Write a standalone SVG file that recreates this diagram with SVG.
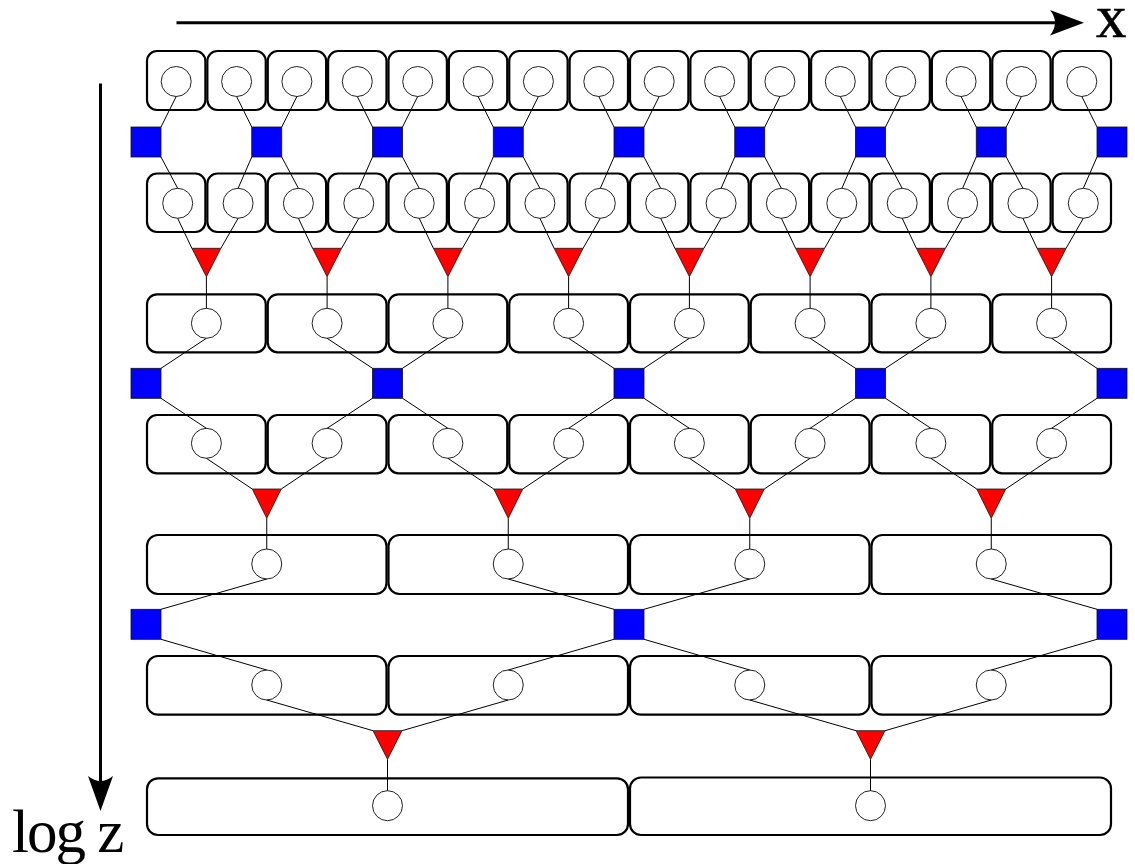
<svg xmlns="http://www.w3.org/2000/svg" width="1135" height="864" viewBox="0 0 1135 864">
<style>
.b{fill:none;stroke:#000;stroke-width:2.2}
.c{fill:#fff;stroke:#222;stroke-width:1}
.sq{fill:#0000ff;stroke:#111;stroke-width:0.8}
.tr{fill:#ff0000;stroke:#111;stroke-width:0.8}
.ln{stroke:#000;stroke-width:1;fill:none}
.ax{stroke:#000;stroke-width:3;fill:none}
.lbl{font-family:"Liberation Serif","Times New Roman",serif;font-size:61px;fill:#000}
</style>
<rect width="1135" height="864" fill="#fff"/>
<g id="axes">
<line class="ax" x1="176.5" y1="22.7" x2="1062" y2="22.7"/>
<path d="M1084,22.7 L1050,10 Q1060,22.7 1050,35.4 Z" fill="#000"/>
<line class="ax" x1="100.5" y1="83.5" x2="100.5" y2="790"/>
<path d="M100.5,811 L88,776 Q100.5,786 113,776 Z" fill="#000"/>
<text class="lbl" x="1096" y="37" font-size="60" stroke="#000" stroke-width="0.6">x</text>
<text class="lbl" x="12" y="852" letter-spacing="-2">log z</text>
</g>
<g id="row1">
<g id="n1_0"><rect class="b" x="147" y="51" width="58.375" height="59" rx="10"/><circle class="c" cx="176.2" cy="81.5" r="15"/></g>
<g id="n1_1"><rect class="b" x="207.375" y="51" width="58.375" height="59" rx="10"/><circle class="c" cx="236.6" cy="81.5" r="15"/></g>
<g id="n1_2"><rect class="b" x="267.75" y="51" width="58.375" height="59" rx="10"/><circle class="c" cx="296.9" cy="81.5" r="15"/></g>
<g id="n1_3"><rect class="b" x="328.125" y="51" width="58.375" height="59" rx="10"/><circle class="c" cx="357.3" cy="81.5" r="15"/></g>
<g id="n1_4"><rect class="b" x="388.5" y="51" width="58.375" height="59" rx="10"/><circle class="c" cx="417.7" cy="81.5" r="15"/></g>
<g id="n1_5"><rect class="b" x="448.875" y="51" width="58.375" height="59" rx="10"/><circle class="c" cx="478.1" cy="81.5" r="15"/></g>
<g id="n1_6"><rect class="b" x="509.25" y="51" width="58.375" height="59" rx="10"/><circle class="c" cx="538.4" cy="81.5" r="15"/></g>
<g id="n1_7"><rect class="b" x="569.625" y="51" width="58.375" height="59" rx="10"/><circle class="c" cx="598.8" cy="81.5" r="15"/></g>
<g id="n1_8"><rect class="b" x="630" y="51" width="58.375" height="59" rx="10"/><circle class="c" cx="659.2" cy="81.5" r="15"/></g>
<g id="n1_9"><rect class="b" x="690.375" y="51" width="58.375" height="59" rx="10"/><circle class="c" cx="719.6" cy="81.5" r="15"/></g>
<g id="n1_10"><rect class="b" x="750.75" y="51" width="58.375" height="59" rx="10"/><circle class="c" cx="779.9" cy="81.5" r="15"/></g>
<g id="n1_11"><rect class="b" x="811.125" y="51" width="58.375" height="59" rx="10"/><circle class="c" cx="840.3" cy="81.5" r="15"/></g>
<g id="n1_12"><rect class="b" x="871.5" y="51" width="58.375" height="59" rx="10"/><circle class="c" cx="900.7" cy="81.5" r="15"/></g>
<g id="n1_13"><rect class="b" x="931.875" y="51" width="58.375" height="59" rx="10"/><circle class="c" cx="961.1" cy="81.5" r="15"/></g>
<g id="n1_14"><rect class="b" x="992.25" y="51" width="58.375" height="59" rx="10"/><circle class="c" cx="1021.4" cy="81.5" r="15"/></g>
<g id="n1_15"><rect class="b" x="1052.625" y="51" width="58.375" height="59" rx="10"/><circle class="c" cx="1081.8" cy="81.5" r="15"/></g>
</g>
<g id="row2">
<g id="n2_0"><rect class="b" x="147" y="173.5" width="58.375" height="58.5" rx="10"/><circle class="c" cx="177.7" cy="203.3" r="15"/></g>
<g id="n2_1"><rect class="b" x="207.375" y="173.5" width="58.375" height="58.5" rx="10"/><circle class="c" cx="238.1" cy="203.3" r="15"/></g>
<g id="n2_2"><rect class="b" x="267.75" y="173.5" width="58.375" height="58.5" rx="10"/><circle class="c" cx="298.4" cy="203.3" r="15"/></g>
<g id="n2_3"><rect class="b" x="328.125" y="173.5" width="58.375" height="58.5" rx="10"/><circle class="c" cx="358.8" cy="203.3" r="15"/></g>
<g id="n2_4"><rect class="b" x="388.5" y="173.5" width="58.375" height="58.5" rx="10"/><circle class="c" cx="419.2" cy="203.3" r="15"/></g>
<g id="n2_5"><rect class="b" x="448.875" y="173.5" width="58.375" height="58.5" rx="10"/><circle class="c" cx="479.6" cy="203.3" r="15"/></g>
<g id="n2_6"><rect class="b" x="509.25" y="173.5" width="58.375" height="58.5" rx="10"/><circle class="c" cx="539.9" cy="203.3" r="15"/></g>
<g id="n2_7"><rect class="b" x="569.625" y="173.5" width="58.375" height="58.5" rx="10"/><circle class="c" cx="600.3" cy="203.3" r="15"/></g>
<g id="n2_8"><rect class="b" x="630" y="173.5" width="58.375" height="58.5" rx="10"/><circle class="c" cx="660.7" cy="203.3" r="15"/></g>
<g id="n2_9"><rect class="b" x="690.375" y="173.5" width="58.375" height="58.5" rx="10"/><circle class="c" cx="721.1" cy="203.3" r="15"/></g>
<g id="n2_10"><rect class="b" x="750.75" y="173.5" width="58.375" height="58.5" rx="10"/><circle class="c" cx="781.4" cy="203.3" r="15"/></g>
<g id="n2_11"><rect class="b" x="811.125" y="173.5" width="58.375" height="58.5" rx="10"/><circle class="c" cx="841.8" cy="203.3" r="15"/></g>
<g id="n2_12"><rect class="b" x="871.5" y="173.5" width="58.375" height="58.5" rx="10"/><circle class="c" cx="902.2" cy="203.3" r="15"/></g>
<g id="n2_13"><rect class="b" x="931.875" y="173.5" width="58.375" height="58.5" rx="10"/><circle class="c" cx="962.6" cy="203.3" r="15"/></g>
<g id="n2_14"><rect class="b" x="992.25" y="173.5" width="58.375" height="58.5" rx="10"/><circle class="c" cx="1022.9" cy="203.3" r="15"/></g>
<g id="n2_15"><rect class="b" x="1052.625" y="173.5" width="58.375" height="58.5" rx="10"/><circle class="c" cx="1083.3" cy="203.3" r="15"/></g>
</g>
<g id="row3">
<g id="n3_0"><rect class="b" x="147" y="294.3" width="118.75" height="58" rx="10"/><circle class="c" cx="206.4" cy="323.3" r="15"/></g>
<g id="n3_1"><rect class="b" x="267.75" y="294.3" width="118.75" height="58" rx="10"/><circle class="c" cx="327.1" cy="323.3" r="15"/></g>
<g id="n3_2"><rect class="b" x="388.5" y="294.3" width="118.75" height="58" rx="10"/><circle class="c" cx="447.9" cy="323.3" r="15"/></g>
<g id="n3_3"><rect class="b" x="509.25" y="294.3" width="118.75" height="58" rx="10"/><circle class="c" cx="568.6" cy="323.3" r="15"/></g>
<g id="n3_4"><rect class="b" x="630" y="294.3" width="118.75" height="58" rx="10"/><circle class="c" cx="689.4" cy="323.3" r="15"/></g>
<g id="n3_5"><rect class="b" x="750.75" y="294.3" width="118.75" height="58" rx="10"/><circle class="c" cx="810.1" cy="323.3" r="15"/></g>
<g id="n3_6"><rect class="b" x="871.5" y="294.3" width="118.75" height="58" rx="10"/><circle class="c" cx="930.9" cy="323.3" r="15"/></g>
<g id="n3_7"><rect class="b" x="992.25" y="294.3" width="118.75" height="58" rx="10"/><circle class="c" cx="1051.6" cy="323.3" r="15"/></g>
</g>
<g id="row4">
<g id="n4_0"><rect class="b" x="147" y="415" width="118.75" height="58.3" rx="10"/><circle class="c" cx="206.4" cy="443.3" r="15"/></g>
<g id="n4_1"><rect class="b" x="267.75" y="415" width="118.75" height="58.3" rx="10"/><circle class="c" cx="327.1" cy="443.3" r="15"/></g>
<g id="n4_2"><rect class="b" x="388.5" y="415" width="118.75" height="58.3" rx="10"/><circle class="c" cx="447.9" cy="443.3" r="15"/></g>
<g id="n4_3"><rect class="b" x="509.25" y="415" width="118.75" height="58.3" rx="10"/><circle class="c" cx="568.6" cy="443.3" r="15"/></g>
<g id="n4_4"><rect class="b" x="630" y="415" width="118.75" height="58.3" rx="10"/><circle class="c" cx="689.4" cy="443.3" r="15"/></g>
<g id="n4_5"><rect class="b" x="750.75" y="415" width="118.75" height="58.3" rx="10"/><circle class="c" cx="810.1" cy="443.3" r="15"/></g>
<g id="n4_6"><rect class="b" x="871.5" y="415" width="118.75" height="58.3" rx="10"/><circle class="c" cx="930.9" cy="443.3" r="15"/></g>
<g id="n4_7"><rect class="b" x="992.25" y="415" width="118.75" height="58.3" rx="10"/><circle class="c" cx="1051.6" cy="443.3" r="15"/></g>
</g>
<g id="row5">
<g id="n5_0"><rect class="b" x="147" y="535" width="239.5" height="59" rx="11"/><circle class="c" cx="266.75" cy="564" r="15"/></g>
<g id="n5_1"><rect class="b" x="388.5" y="535" width="239.5" height="59" rx="11"/><circle class="c" cx="508.25" cy="564" r="15"/></g>
<g id="n5_2"><rect class="b" x="630" y="535" width="239.5" height="59" rx="11"/><circle class="c" cx="749.75" cy="564" r="15"/></g>
<g id="n5_3"><rect class="b" x="871.5" y="535" width="239.5" height="59" rx="11"/><circle class="c" cx="991.25" cy="564" r="15"/></g>
</g>
<g id="row6">
<g id="n6_0"><rect class="b" x="147" y="656" width="239.5" height="58.7" rx="11"/><circle class="c" cx="266.75" cy="685" r="15"/></g>
<g id="n6_1"><rect class="b" x="388.5" y="656" width="239.5" height="58.7" rx="11"/><circle class="c" cx="508.25" cy="685" r="15"/></g>
<g id="n6_2"><rect class="b" x="630" y="656" width="239.5" height="58.7" rx="11"/><circle class="c" cx="749.75" cy="685" r="15"/></g>
<g id="n6_3"><rect class="b" x="871.5" y="656" width="239.5" height="58.7" rx="11"/><circle class="c" cx="991.25" cy="685" r="15"/></g>
</g>
<g id="row7">
<g id="n7_0"><rect class="b" x="147" y="778.3" width="481" height="56.7" rx="11"/><circle class="c" cx="387.5" cy="805.7" r="15"/></g>
<g id="n7_1"><rect class="b" x="630" y="777.5" width="481" height="57.5" rx="11"/><circle class="c" cx="870.5" cy="805.7" r="15"/></g>
</g>
<g id="connectors">
<path class="ln" d="M176.2,96.5L161,127M236.6,96.5L251.75,127M296.9,96.5L281.75,127M357.3,96.5L372.5,127M417.7,96.5L402.5,127M478.1,96.5L493.25,127M538.4,96.5L523.25,127M598.8,96.5L614,127M659.2,96.5L644,127M719.6,96.5L734.75,127M779.9,96.5L764.75,127M840.3,96.5L855.5,127M900.7,96.5L885.5,127M961.1,96.5L976.25,127M1021.4,96.5L1006.25,127M1081.8,96.5L1097,127"/>
<path class="ln" d="M161,157L177.7,188.3M251.75,157L238.1,188.3M281.75,157L298.4,188.3M372.5,157L358.8,188.3M402.5,157L419.2,188.3M493.25,157L479.6,188.3M523.25,157L539.9,188.3M614,157L600.3,188.3M644,157L660.7,188.3M734.75,157L721.1,188.3M764.75,157L781.4,188.3M855.5,157L841.8,188.3M885.5,157L902.2,188.3M976.25,157L962.6,188.3M1006.25,157L1022.9,188.3M1097,157L1083.3,188.3"/>
<path class="ln" d="M177.7,218.3L191.9,248.3M238.1,218.3L220.9,248.3M298.4,218.3L312.6,248.3M358.8,218.3L341.6,248.3M419.2,218.3L433.4,248.3M479.6,218.3L462.4,248.3M539.9,218.3L554.1,248.3M600.3,218.3L583.1,248.3M660.7,218.3L674.9,248.3M721.1,218.3L703.9,248.3M781.4,218.3L795.6,248.3M841.8,218.3L824.6,248.3M902.2,218.3L916.4,248.3M962.6,218.3L945.4,248.3M1022.9,218.3L1037.1,248.3M1083.3,218.3L1066.1,248.3"/>
<path class="ln" d="M206.4,276.7V308.3M327.1,276.7V308.3M447.9,276.7V308.3M568.6,276.7V308.3M689.4,276.7V308.3M810.1,276.7V308.3M930.9,276.7V308.3M1051.6,276.7V308.3"/>
<path class="ln" d="M206.4,338.3L161,368.3M327.1,338.3L372.5,368.3M447.9,338.3L402.5,368.3M568.6,338.3L614,368.3M689.4,338.3L644,368.3M810.1,338.3L855.5,368.3M930.9,338.3L885.5,368.3M1051.6,338.3L1097,368.3"/>
<path class="ln" d="M161,398.3L206.4,428.3M372.5,398.3L327.1,428.3M402.5,398.3L447.9,428.3M614,398.3L568.6,428.3M644,398.3L689.4,428.3M855.5,398.3L810.1,428.3M885.5,398.3L930.9,428.3M1097,398.3L1051.6,428.3"/>
<path class="ln" d="M206.4,458.3L252.25,489M327.1,458.3L281.25,489M447.9,458.3L493.75,489M568.6,458.3L522.75,489M689.4,458.3L735.25,489M810.1,458.3L764.25,489M930.9,458.3L976.75,489M1051.6,458.3L1005.75,489"/>
<path class="ln" d="M266.75,518.3V549M508.25,518.3V549M749.75,518.3V549M991.25,518.3V549"/>
<path class="ln" d="M266.75,579L161,609.3M508.25,579L614,609.3M749.75,579L644,609.3M991.25,579L1097,609.3"/>
<path class="ln" d="M161,639.3L266.75,670M614,639.3L508.25,670M644,639.3L749.75,670M1097,639.3L991.25,670"/>
<path class="ln" d="M266.75,700L373,730.7M508.25,700L402,730.7M749.75,700L856,730.7M991.25,700L885,730.7"/>
<path class="ln" d="M387.5,759.3V790.7M870.5,759.3V790.7"/>
</g>
<g id="merge1">
<rect id="s1_0" class="sq" x="131" y="127" width="30" height="30"/>
<rect id="s1_1" class="sq" x="251.75" y="127" width="30" height="30"/>
<rect id="s1_2" class="sq" x="372.5" y="127" width="30" height="30"/>
<rect id="s1_3" class="sq" x="493.25" y="127" width="30" height="30"/>
<rect id="s1_4" class="sq" x="614" y="127" width="30" height="30"/>
<rect id="s1_5" class="sq" x="734.75" y="127" width="30" height="30"/>
<rect id="s1_6" class="sq" x="855.5" y="127" width="30" height="30"/>
<rect id="s1_7" class="sq" x="976.25" y="127" width="30" height="30"/>
<rect id="s1_8" class="sq" x="1097" y="127" width="30" height="30"/>
</g>
<g id="tri2">
<polygon id="t2_0" class="tr" points="191.9,248.3 220.9,248.3 206.4,276.7"/>
<polygon id="t2_1" class="tr" points="312.6,248.3 341.6,248.3 327.1,276.7"/>
<polygon id="t2_2" class="tr" points="433.4,248.3 462.4,248.3 447.9,276.7"/>
<polygon id="t2_3" class="tr" points="554.1,248.3 583.1,248.3 568.6,276.7"/>
<polygon id="t2_4" class="tr" points="674.9,248.3 703.9,248.3 689.4,276.7"/>
<polygon id="t2_5" class="tr" points="795.6,248.3 824.6,248.3 810.1,276.7"/>
<polygon id="t2_6" class="tr" points="916.4,248.3 945.4,248.3 930.9,276.7"/>
<polygon id="t2_7" class="tr" points="1037.1,248.3 1066.1,248.3 1051.6,276.7"/>
</g>
<g id="merge3">
<rect id="s3_0" class="sq" x="131" y="368.3" width="30" height="30"/>
<rect id="s3_1" class="sq" x="372.5" y="368.3" width="30" height="30"/>
<rect id="s3_2" class="sq" x="614" y="368.3" width="30" height="30"/>
<rect id="s3_3" class="sq" x="855.5" y="368.3" width="30" height="30"/>
<rect id="s3_4" class="sq" x="1097" y="368.3" width="30" height="30"/>
</g>
<g id="tri4">
<polygon id="t4_0" class="tr" points="252.25,489 281.25,489 266.75,518.3"/>
<polygon id="t4_1" class="tr" points="493.75,489 522.75,489 508.25,518.3"/>
<polygon id="t4_2" class="tr" points="735.25,489 764.25,489 749.75,518.3"/>
<polygon id="t4_3" class="tr" points="976.75,489 1005.75,489 991.25,518.3"/>
</g>
<g id="merge5">
<rect id="s5_0" class="sq" x="131" y="609.3" width="30" height="30"/>
<rect id="s5_1" class="sq" x="614" y="609.3" width="30" height="30"/>
<rect id="s5_2" class="sq" x="1097" y="609.3" width="30" height="30"/>
</g>
<g id="tri6">
<polygon id="t6_0" class="tr" points="373,730.7 402,730.7 387.5,759.3"/>
<polygon id="t6_1" class="tr" points="856,730.7 885,730.7 870.5,759.3"/>
</g>
</svg>
